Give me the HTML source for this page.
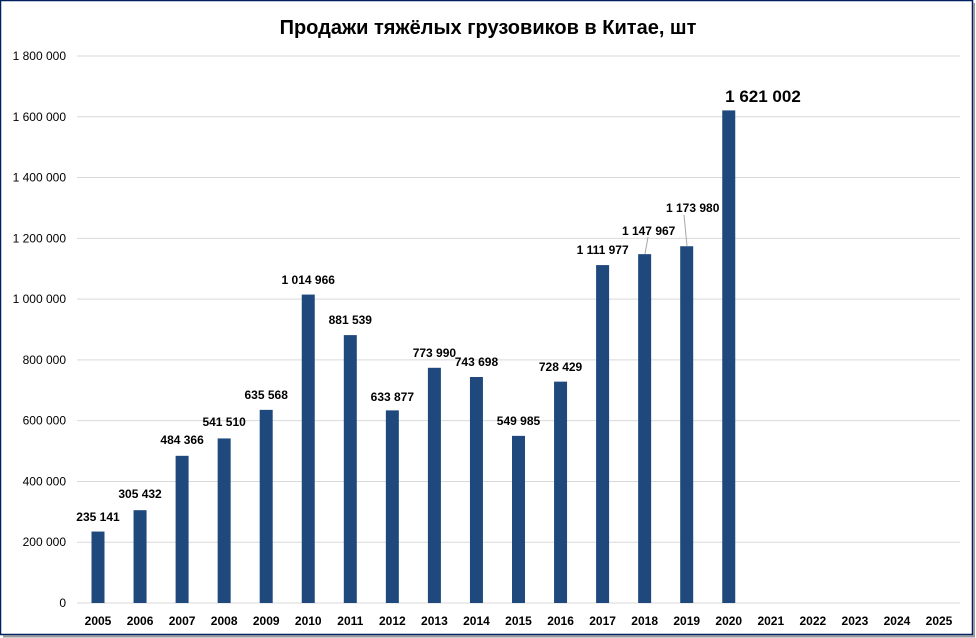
<!DOCTYPE html>
<html><head><meta charset="utf-8"><style>
body{margin:0;background:#fff}
svg{display:block;font-family:"Liberation Sans","DejaVu Sans",sans-serif}
</style></head><body>
<svg width="976" height="638" viewBox="0 0 976 638" xmlns="http://www.w3.org/2000/svg">
<rect x="0" y="0" width="976" height="638" fill="#fff"/>
<rect x="0.5" y="0.5" width="972" height="634" fill="none" stroke="#002060" stroke-width="1.5"/>
<line x1="974" y1="3" x2="974" y2="637" stroke="#999" stroke-width="2"/>
<line x1="3" y1="636.5" x2="975" y2="636.5" stroke="#999" stroke-width="2"/>
<text x="488" y="34" text-anchor="middle" font-size="20" font-weight="bold" fill="#000">Продажи тяжёлых грузовиков в Китае, шт</text>
<g id="grid" stroke="#d9d9d9" stroke-width="1"></g>
<g id="yl" font-size="12" fill="#000" text-anchor="end"></g>
<g id="bars" fill="#1f497d"></g>
<g id="xl" font-size="12" font-weight="bold" fill="#000" text-anchor="middle"></g>
<g id="dl" font-size="12" font-weight="bold" fill="#000" text-anchor="middle"></g>
<line x1="648" y1="237" x2="645" y2="254" stroke="#a6a6a6"/>
<line x1="684" y1="215" x2="687" y2="246" stroke="#a6a6a6"/>
<text x="763" y="102" text-anchor="middle" font-size="17" font-weight="bold">1 621 002</text>
</svg>
<script>
var NS="http://www.w3.org/2000/svg";
function el(p,t,a,txt){var e=document.createElementNS(NS,t);for(var k in a)e.setAttribute(k,a[k]);if(txt!=null)e.textContent=txt;document.getElementById(p).appendChild(e);}
var y0=603,pp=547/1800000;
var yl=["0","200 000","400 000","600 000","800 000","1 000 000","1 200 000","1 400 000","1 600 000","1 800 000"];
for(var i=0;i<10;i++){var y=y0-i*200000*pp;el("grid","line",{x1:77,x2:960,y1:y,y2:y});el("yl","text",{x:66,y:y+4},yl[i]);}
var v=[235141,305432,484366,541510,635568,1014966,881539,633877,773990,743698,549985,728429,1111977,1147967,1173980,1621002];
var lab=["235 141","305 432","484 366","541 510","635 568","1 014 966","881 539","633 877","773 990","743 698","549 985","728 429","1 111 977","1 147 967","1 173 980"];
var ly=[517,494,440,422,395,280,320,397,353,362,421,367,250,231,208];
var lx=[0,0,0,0,0,0,0,0,0,0,0,0,0,4,6];
for(var i=0;i<21;i++){var cx=98+i*42.05;el("xl","text",{x:cx,y:625},String(2005+i));
if(i<v.length){var h=v[i]*pp;el("bars","rect",{x:cx-6.5,y:y0-h,width:13,height:h});}
if(i<lab.length)el("dl","text",{x:cx+lx[i],y:ly[i]+4},lab[i]);}
</script>
</body></html>
